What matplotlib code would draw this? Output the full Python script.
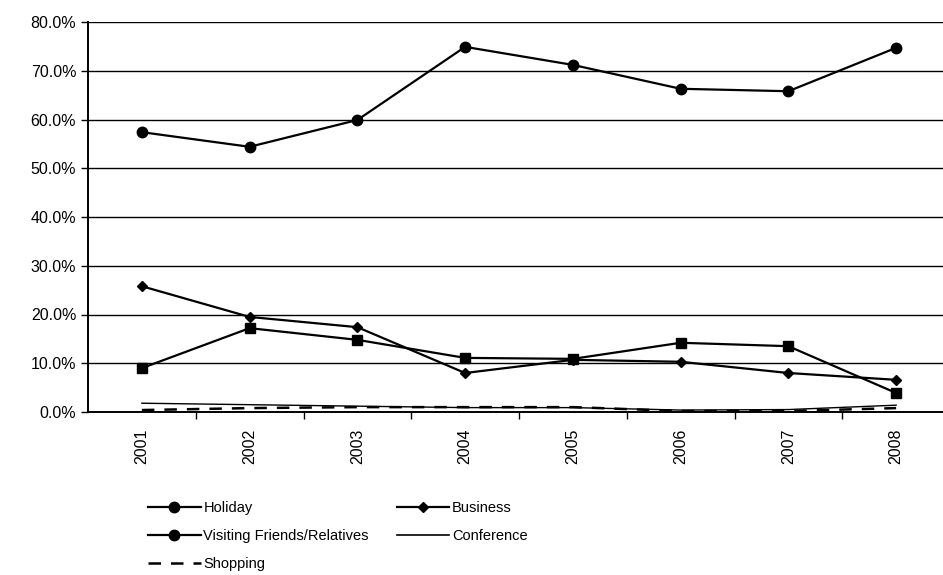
import matplotlib
matplotlib.use("Agg")
import matplotlib.pyplot as plt
from matplotlib.lines import Line2D
from matplotlib.ticker import FuncFormatter, MultipleLocator

plt.rcParams.update({
    "font.family": ["Liberation Sans", "DejaVu Sans"],
    "font.size": 11.5,
})

years = ["2001", "2002", "2003", "2004", "2005", "2006", "2007", "2008"]
holiday = [57.4, 54.4, 59.9, 74.9, 71.2, 66.3, 65.8, 74.7]
business = [25.8, 19.5, 17.4, 8.0, 10.7, 10.3, 8.0, 6.6]
vfr = [9.0, 17.2, 14.8, 11.1, 10.9, 14.2, 13.5, 3.9]
conference = [1.8, 1.5, 1.2, 0.9, 0.9, 0.4, 0.5, 1.4]
shopping = [0.4, 0.8, 1.0, 1.0, 1.0, 0.2, 0.2, 0.8]

x = list(range(len(years)))

fig = plt.figure(figsize=(9.43, 5.75), dpi=100)
ax = fig.add_axes([88 / 943, 1 - 412 / 575, 862 / 943, 390 / 575])

lw = 1.6
ax.plot(x, holiday, color="black", lw=lw, marker="o", ms=7.5)
ax.plot(x, business, color="black", lw=lw, marker="D", ms=5.5)
ax.plot(x, vfr, color="black", lw=lw, marker="s", ms=7.5)
ax.plot(x, conference, color="black", lw=1.0)
ax.plot(x, shopping, color="black", lw=1.8, ls=(0, (5, 4)))

ax.set_xlim(-0.5, len(years) - 0.5)
ax.set_ylim(0, 80)
ax.yaxis.set_major_locator(MultipleLocator(10))
ax.yaxis.set_major_formatter(FuncFormatter(lambda v, _: f"{v:.1f}%"))
ax.grid(True, axis="y", color="black", lw=1.0)
ax.set_axisbelow(True)

ax.set_xticks(x)
ax.set_xticklabels(years, rotation=90)
ax.tick_params(axis="x", length=0, pad=12)
ax.set_xticks([i + 0.5 for i in x[:-1]], minor=True)
ax.tick_params(axis="x", which="minor", length=5, width=1.0, direction="out")
ax.tick_params(axis="y", length=5, width=1.0, direction="out")

for side in ("top", "right"):
    ax.spines[side].set_visible(False)
for side in ("left", "bottom"):
    ax.spines[side].set_linewidth(1.4)

# legend fills column by column: left column first, then right
handles = [
    Line2D([], [], color="black", lw=lw, marker="o", ms=7.5),
    Line2D([], [], color="black", lw=lw, marker="o", ms=7.5),
    Line2D([], [], color="black", lw=1.8, ls=(0, (5, 4))),
    Line2D([], [], color="black", lw=lw, marker="D", ms=5.5),
    Line2D([], [], color="black", lw=1.2),
]
labels = ["Holiday", "Visiting Friends/Relatives", "Shopping",
          "Business", "Conference"]
fig.legend(handles, labels, loc="upper left",
           bbox_to_anchor=(148 / 943, 1 - 501 / 575),
           ncol=2, frameon=False, handlelength=3.6, handletextpad=0.2,
           columnspacing=1.9, labelspacing=0.95, borderaxespad=0,
           borderpad=0, fontsize=10.5)

fig.savefig("out.png", dpi=100)
